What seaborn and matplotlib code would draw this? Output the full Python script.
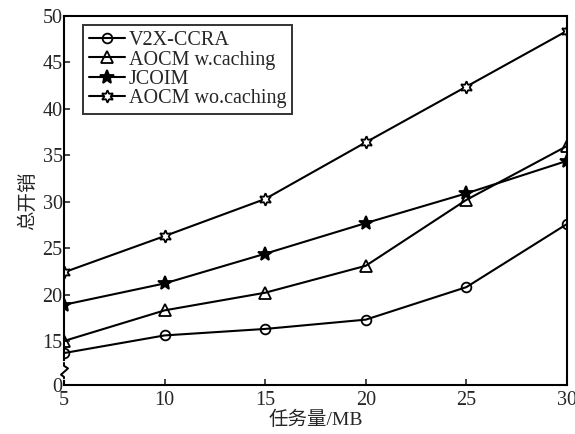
import matplotlib
matplotlib.use("Agg")
import matplotlib.pyplot as plt
import seaborn as sns
import pandas as pd

# data
task_size = [5, 10, 15, 20, 25, 30]
v2x_ccra = [13.7, 15.6, 16.3, 17.3, 20.8, 27.6]
aocm_w_caching = [15.0, 18.3, 20.2, 23.1, 30.2, 36.0]
jcoim = [18.9, 21.2, 24.4, 27.7, 30.9, 34.4]
aocm_wo_caching = [22.4, 26.3, 30.3, 36.4, 42.4, 48.4]

series_names = ["V2X-CCRA", "AOCM w.caching", "JCOIM", "AOCM wo.caching"]
series_values = [v2x_ccra, aocm_w_caching, jcoim, aocm_wo_caching]

# broken y axis: the "0" tick sits just below 15
y_zero_pos = 10.26
y_ticks = [y_zero_pos, 15, 20, 25, 30, 35, 40, 45, 50]
y_tick_labels = ["0", "15", "20", "25", "30", "35", "40", "45", "50"]

sns.set_style("ticks")
plt.rcParams["font.family"] = ["Liberation Serif", "Noto Sans CJK SC"]
plt.rcParams["axes.linewidth"] = 1.5
plt.rcParams["xtick.direction"] = "in"
plt.rcParams["ytick.direction"] = "in"

rows = []
for name, vals in zip(series_names, series_values):
    for x, y in zip(task_size, vals):
        rows.append({"task": x, "cost": y, "method": name})
df = pd.DataFrame(rows)

fig, ax = plt.subplots(figsize=(5.75, 4.34), dpi=100)
fig.subplots_adjust(left=0.1113, right=0.986, top=0.963, bottom=0.1129)

styles = {
    "V2X-CCRA": dict(marker="o", markerfacecolor="none"),
    "AOCM w.caching": dict(marker="^", markerfacecolor="none", markersize=8),
    "JCOIM": dict(marker="*", markerfacecolor="black", markersize=10),
    "AOCM wo.caching": dict(marker=(6, 1, 0), markerfacecolor="white", markersize=9),
}

for name in series_names:
    kw = dict(markersize=7)
    kw.update(styles[name])
    sns.lineplot(data=df[df["method"] == name], x="task", y="cost", ax=ax,
                 color="black", linewidth=1.5, markeredgecolor="black",
                 markeredgewidth=1.3, label=name, **kw)

ax.set_xlim(5, 30)
ax.set_ylim(y_zero_pos, 50)
ax.set_xticks(task_size)
ax.set_yticks(y_ticks)
ax.set_yticklabels(y_tick_labels)
ax.tick_params(labelsize=14.5, length=4, width=1.2)
ax.tick_params(axis="x", pad=4)
ax.tick_params(axis="y", pad=1)
for sp in ax.spines.values():
    sp.set_visible(True)
    sp.set_color("black")

ax.set_xlabel("任务量/MB", fontsize=14, labelpad=1)
ax.set_ylabel("总开销", fontsize=14, labelpad=4)

# break mark on the left spine
ax.plot([0, 0], [0.018, 0.06], transform=ax.transAxes, color="white",
        linewidth=3, clip_on=False, zorder=5)
ax.plot([0, 0, 0.008, -0.006, 0, 0], [0.06, 0.052, 0.045, 0.028, 0.022, 0.018],
        transform=ax.transAxes, color="black", linewidth=1.4,
        clip_on=False, zorder=6)

leg = ax.legend(loc="upper left", bbox_to_anchor=(0.037, 0.975), fontsize=14.5,
                frameon=True, fancybox=False, edgecolor="black",
                handlelength=1.8, handletextpad=0.2, labelspacing=0.0,
                borderpad=0.3, borderaxespad=0)
leg.get_frame().set_linewidth(1.4)

fig.savefig("out.png", dpi=100)
